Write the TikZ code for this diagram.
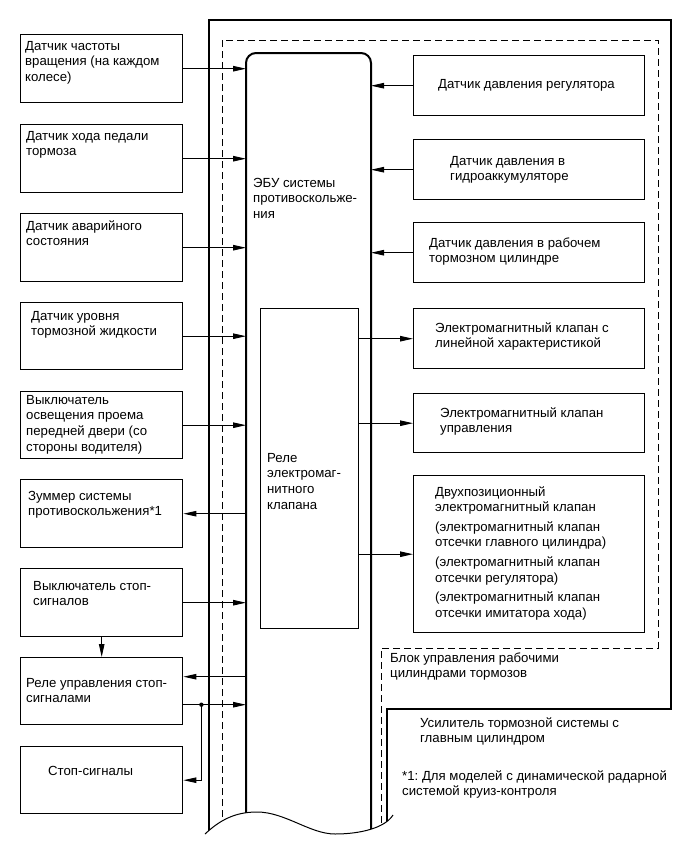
\documentclass[tikz,border=0pt]{standalone}
\usepackage{fontspec}
\setmainfont{Liberation Sans}
\usetikzlibrary{arrows.meta,calc}
\newcommand{\mlines}[1]{\begin{tabular}[t]{@{}l@{}}#1\end{tabular}}
\frenchspacing
\begin{document}
\begin{tikzpicture}[x=1pt,y=-1pt,
  font=\fontsize{13.2}{15.8}\selectfont\frenchspacing,
  box/.style={draw, line width=1.4pt, rectangle, anchor=north west, inner sep=0pt},
  txt/.style={anchor=base west, inner sep=0pt},
  arr/.style={line width=0.9pt, -{Triangle[length=13pt,width=5.5pt]}},
  frameline/.style={line width=1.3pt},
  dashline/.style={line width=1pt, dash pattern=on 7pt off 4pt},
  eculine/.style={line width=2pt}]
\useasboundingbox (0,0) rectangle (690,855);

% frames and ECU, clipped by the wavy break
\begin{scope}
\clip (150,-5) -- (150,834) -- (205,834) .. controls (220,820) and (235,812) .. (257,812)
  .. controls (285,812) and (310,834) .. (335,834) .. controls (360,834) and (385,828) .. (393,815)
  -- (700,815) -- (700,-5) -- cycle;
\draw[frameline] (209,850) -- (209,20) -- (671,20) -- (671,709) -- (387,709) -- (387,850);
\draw[dashline] (222,850) -- (222,40) -- (658,40) -- (658,648) -- (381,648) -- (381,850);
\draw[eculine, rounded corners=10pt] (246,850) -- (246,53) -- (371,53) -- (371,850);
\end{scope}
\draw[line width=1pt] (205,834) .. controls (220,820) and (235,812) .. (257,812)
  .. controls (285,812) and (310,834) .. (335,834) .. controls (360,834) and (385,828) .. (393,815);

\coordinate (ecuL) at (246,0);
\coordinate (ecuR) at (371,0);

% left boxes
\node[box, minimum width=162pt, minimum height=68pt] (L1) at (20,34) {};
\node[box, minimum width=162pt, minimum height=68pt] (L2) at (20,124) {};
\node[box, minimum width=162pt, minimum height=68pt] (L3) at (20,213) {};
\node[box, minimum width=162pt, minimum height=67pt] (L4) at (20,302) {};
\node[box, minimum width=162pt, minimum height=67pt] (L5) at (20,391) {};
\node[box, minimum width=162pt, minimum height=68pt] (L6) at (20,479) {};
\node[box, minimum width=162pt, minimum height=68pt] (L7) at (20,568) {};
\node[box, minimum width=162pt, minimum height=67pt] (L8) at (20,657) {};
\node[box, minimum width=162pt, minimum height=67pt] (L9) at (20,746) {};

% right boxes
\node[box, minimum width=231pt, minimum height=60pt] (R1) at (413,55) {};
\node[box, minimum width=231pt, minimum height=60pt] (R2) at (413,139) {};
\node[box, minimum width=231pt, minimum height=60pt] (R3) at (413,222) {};
\node[box, minimum width=231pt, minimum height=60pt] (R4) at (413,308) {};
\node[box, minimum width=231pt, minimum height=59pt] (R5) at (413,393) {};
\node[box, minimum width=231pt, minimum height=157pt] (R6) at (413,475) {};

% relay box
\node[box, line width=1.2pt, minimum width=98pt, minimum height=320pt] (relay) at (260,308) {};

% texts
\node[txt] (tL1) at (25,50) {\mlines{Датчик частоты\\вращения (на каждом\\колесе)}};
\node[txt] (tL2) at (26,140) {\mlines{Датчик хода педали\\тормоза}};
\node[txt] (tL3) at (26,230) {\mlines{Датчик аварийного\\состояния}};
\node[txt] (tL4) at (31,320) {\mlines{Датчик уровня\\тормозной жидкости}};
\node[txt] (tL5) at (26,404) {\mlines{Выключатель\\освещения проема\\передней двери (со\\стороны водителя)}};
\node[txt] (tL6) at (28,500) {\mlines{Зуммер системы\\противоскольжения*1}};
\node[txt] (tL7) at (33,590) {\mlines{Выключатель стоп-\\сигналов}};
\node[txt] (tL8) at (26,687) {\mlines{Реле управления стоп-\\сигналами}};
\node[txt] (tL9) at (48,775) {Стоп-сигналы};
\node[txt] (tECU) at (253,187) {\mlines{ЭБУ системы\\противоскольже-\\ния}};
\node[txt] (trelay) at (267,462) {\mlines{Реле\\электромаг-\\нитного\\клапана}};
\node[txt] (tR1) at (438,88) {Датчик давления регулятора};
\node[txt] (tR2) at (450,165) {\mlines{Датчик давления в\\гидроаккумуляторе}};
\node[txt] (tR3) at (429,247) {\mlines{Датчик давления в рабочем\\тормозном цилиндре}};
\node[txt] (tR4) at (435,332) {\mlines{Электромагнитный клапан с\\линейной характеристикой}};
\node[txt] (tR5) at (440,417) {\mlines{Электромагнитный клапан\\управления}};
\node[txt] (tR6) at (435,496) {\mlines{Двухпозиционный\\электромагнитный клапан\\[3.5pt](электромагнитный клапан\\отсечки главного цилиндра)\\[3.5pt](электромагнитный клапан\\отсечки регулятора)\\[3.5pt](электромагнитный клапан\\отсечки имитатора хода)}};
\node[txt] (tblock) at (390,662) {\mlines{Блок управления рабочими\\цилиндрами тормозов}};
\node[txt] (tbooster) at (420,727) {\mlines{Усилитель тормозной системы с\\главным цилиндром}};
\node[txt] (tnote) at (402,780) {\mlines{*1: Для моделей с динамической радарной\\системой круиз-контроля}};

% arrows left side
\draw[arr] (L1.east) -- (L1.east -| ecuL);
\draw[arr] (L2.east) -- (L2.east -| ecuL);
\draw[arr] (L3.east) -- (L3.east -| ecuL);
\draw[arr] (L4.east) -- (L4.east -| ecuL);
\draw[arr] (L5.east) -- (L5.east -| ecuL);
\draw[arr] (L6.east -| ecuL) -- (L6.east);
\draw[arr] (L7.east) -- (L7.east -| ecuL);
\draw[arr] ($(L8.east -| ecuL)+(0,-14.5)$) -- ($(L8.east)+(0,-14.5)$);
\coordinate (j) at ($(L8.east)+(18,13.5)$);
\draw[arr] ($(L8.east)+(0,13.5)$) -- ($(L8.east -| ecuL)+(0,13.5)$);
\draw[arr] (j) |- (L9.east);
\fill (j) circle (2.2pt);
\draw[arr] (L7.south) -- (L8.north);

% arrows right side
\draw[arr] (R1.west) -- (R1.west -| ecuR);
\draw[arr] (R2.west) -- (R2.west -| ecuR);
\draw[arr] (R3.west) -- (R3.west -| ecuR);
\draw[arr] (R4.west -| relay.east) -- (R4.west);
\draw[arr] (R5.west -| relay.east) -- (R5.west);
\draw[arr] (R6.west -| relay.east) -- (R6.west);
\end{tikzpicture}
\end{document}
